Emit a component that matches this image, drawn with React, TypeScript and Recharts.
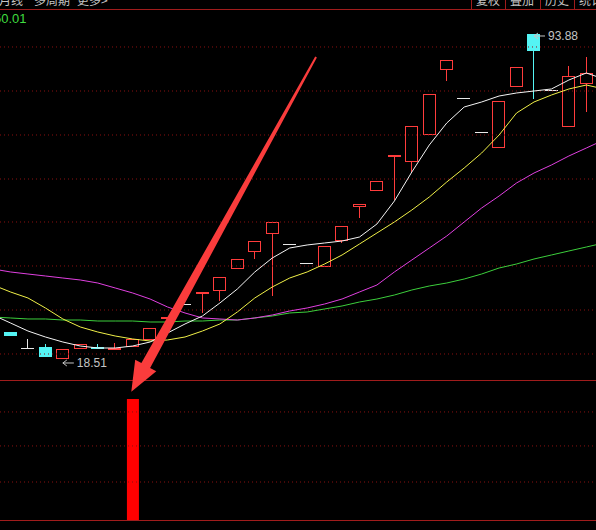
import React from 'react';
import {
  ComposedChart,
  Bar,
  Line,
  XAxis,
  YAxis,
  ReferenceLine,
  ReferenceDot,
} from 'recharts';

const W = 596;
const H = 530;

// Monthly candles (price)
const opens = [24.77, 21.17, 21.29, 18.51, 20.83, 21.29, 20.6, 21.29, 22.92, 27.79, 31.26, 33.58, 34.28, 39.38, 43.32, 47.5, 45.18, 40.77, 39.85, 45.87, 53.76, 57.47, 65.36, 64.2, 70.46, 85.53, 79.04, 71.15, 67.44, 81.59, 93.88, 80.89, 72.31, 82.28];
const closes = [23.84, 21.17, 18.97, 20.83, 21.99, 20.83, 21.06, 23.15, 25.7, 28.25, 31.26, 34.05, 37.53, 41.7, 45.87, 50.28, 45.18, 40.77, 44.72, 49.35, 54.46, 59.79, 65.82, 72.54, 79.97, 87.85, 79.04, 71.15, 78.34, 86.23, 89.94, 80.89, 84.14, 84.84];
const highs = [24.77, 23.15, 21.99, 20.83, 21.99, 21.99, 22.22, 23.15, 25.7, 28.25, 31.26, 34.05, 37.53, 41.7, 45.87, 50.28, 45.18, 40.77, 44.72, 49.35, 54.46, 59.79, 65.82, 72.54, 79.97, 87.85, 79.04, 71.15, 78.34, 86.23, 93.88, 80.89, 86.46, 88.55];
const lows = [23.84, 21.17, 18.97, 18.51, 20.83, 20.83, 20.6, 21.29, 22.92, 26.39, 31.26, 29.18, 31.96, 39.38, 41.7, 33.12, 45.18, 40.77, 39.85, 45.41, 51.21, 57.47, 55.38, 61.64, 70.46, 82.98, 79.04, 71.15, 67.44, 81.59, 78.81, 80.89, 72.31, 75.79];

// Moving averages, one point before the first candle and one after the last
const ma5 = [28.71, 26.86, 25.0, 23.61, 22.45, 21.52, 21.06, 21.06, 21.52, 22.45, 24.54, 26.63, 28.48, 31.5, 34.74, 38.69, 41.93, 44.25, 44.95, 45.41, 45.87, 46.8, 49.82, 55.15, 61.88, 68.14, 73.24, 76.95, 78.11, 79.5, 80.2, 80.66, 81.13, 83.21, 84.84, 83.44];
const ma10 = [35.67, 34.05, 32.66, 30.34, 27.79, 25.93, 24.77, 23.84, 23.15, 22.68, 22.92, 23.61, 25.0, 26.63, 29.41, 32.66, 35.21, 37.29, 38.69, 40.54, 42.63, 45.18, 47.73, 50.28, 53.06, 56.08, 59.56, 62.8, 66.28, 70.46, 75.56, 78.11, 79.73, 81.13, 82.05, 81.13];
const ma20 = [39.38, 38.69, 38.22, 37.76, 37.29, 36.83, 36.13, 34.98, 33.82, 32.42, 30.57, 29.18, 28.02, 27.79, 27.55, 28.02, 28.71, 29.64, 30.34, 31.26, 32.42, 34.05, 35.67, 38.69, 41.47, 44.25, 47.03, 50.28, 53.53, 56.31, 59.33, 61.64, 63.5, 65.59, 67.44, 69.3];
const ma60 = [28.25, 28.02, 27.79, 27.79, 27.55, 27.55, 27.32, 27.32, 27.32, 27.09, 27.09, 27.32, 27.32, 27.55, 27.55, 28.02, 28.48, 29.18, 29.41, 30.11, 30.8, 31.73, 32.42, 33.35, 34.51, 35.44, 36.13, 37.06, 38.22, 39.61, 40.54, 41.7, 42.63, 43.56, 44.48, 45.41];

// Buy signal bars in the lower pane
const signal = [null, null, null, null, null, null, null, 1, null, null, null, null, null, null, null, null, null, null, null, null, null, null, null, null, null, null, null, null, null, null, null, null, null, null];

const menuLeft = ['月线', '多周期', '更多>'];
const menuRight = ['复权', '叠加', '历史', '统计'];
const cornerValue = '50.01';

// Axis ranges and guide levels
const xDomain = [-0.602, 33.553];
const priceDomain = [-21.15, 101.765];
const signalDomain = [-0.0826, 4.2975];
const priceGrid = [19.67, 29.87, 40.08, 50.28, 60.25, 70.46, 80.66, 90.87];
const signalGrid = [0.314, 0.612, 0.893];
const arrowFrom = { x: 17.51, y: 88.55 };
const arrowTo = { x: 6.92, y: 10.9 };

const UP = '#ff3c3c';
const DOWN = '#54f4f4';
const FLAT = '#e8e8e8';
const GRID = '#8a1010';
const FRAME = '#a01c1c';
const TEXT = '#c4c4c4';

const rows = ma5.map((_, k) => {
  const i = k - 1;
  const has = i >= 0 && i < opens.length;
  return {
    i,
    o: has ? opens[i] : undefined,
    c: has ? closes[i] : undefined,
    h: has ? highs[i] : undefined,
    l: has ? lows[i] : undefined,
    range: has ? [lows[i], highs[i]] : undefined,
    sig: has ? signal[i] : undefined,
    ma5: ma5[k],
    ma10: ma10[k],
    ma20: ma20[k],
    ma60: ma60[k],
  };
});

const lowIdx = lows.indexOf(Math.min(...lows));
const highIdx = highs.indexOf(Math.max(...highs));

function Candle(props: any) {
  const { x, y, width, height, payload } = props;
  if (!payload || payload.o == null) return null;
  const { o, c, h, l } = payload;
  const span = h - l;
  const k = span > 0 ? height / span : 0;
  const py = (v: number) => y + (h - v) * k;
  const left = Math.round(x);
  const w = Math.round(width);
  const mid = left + Math.floor(w / 2) + 0.5;
  const top = Math.round(py(Math.max(o, c)));
  const bot = Math.round(py(Math.min(o, c)));
  const yh = Math.round(y);
  const yl = Math.round(y + height);

  if (o === c) {
    return (
      <g>
        {yh < top && <line x1={mid} x2={mid} y1={yh} y2={top} stroke={FLAT} />}
        {yl > bot && <line x1={mid} x2={mid} y1={bot} y2={yl} stroke={FLAT} />}
        <line x1={left} x2={left + w} y1={top + 0.5} y2={top + 0.5} stroke={FLAT} />
      </g>
    );
  }
  const color = c > o ? UP : DOWN;
  return (
    <g>
      {yh < top && <line x1={mid} x2={mid} y1={yh} y2={top} stroke={color} />}
      {yl > bot && <line x1={mid} x2={mid} y1={bot} y2={yl} stroke={color} />}
      {c > o ? (
        <rect x={left + 0.5} y={top + 0.5} width={w - 1} height={Math.max(1, bot - top - 1)} fill="none" stroke={color} />
      ) : (
        <rect x={left} y={top} width={w} height={Math.max(1, bot - top)} fill={color} />
      )}
    </g>
  );
}

function PriceTag({ cx, cy, text, dy }: any) {
  const ay = cy + dy - 4;
  return (
    <g>
      <path
        d={`M${cx} ${ay} L${cx + 11} ${ay} M${cx} ${ay} L${cx + 4} ${ay - 3} M${cx} ${ay} L${cx + 4} ${ay + 3}`}
        stroke={TEXT}
        strokeWidth={1}
        fill="none"
      />
      <text x={cx + 14} y={cy + dy} fill={TEXT} fontSize={12} fontFamily="'Liberation Sans', Arial, sans-serif">
        {text}
      </text>
    </g>
  );
}

function BigArrow(props: any) {
  const { x1, y1, x2, y2 } = props;
  if ([x1, y1, x2, y2].some((v) => v == null || isNaN(v))) return null;
  const dx = x2 - x1;
  const dy = y2 - y1;
  const len = Math.hypot(dx, dy);
  const ux = dx / len;
  const uy = dy / len;
  const nx = -uy;
  const ny = ux;
  const headLen = 30;
  const headHalf = 12;
  const neckHalf = 5;
  const tailHalf = 1;
  const bx = x2 - ux * headLen;
  const by = y2 - uy * headLen;
  const pts = [
    [x1 + nx * tailHalf, y1 + ny * tailHalf],
    [bx + nx * neckHalf, by + ny * neckHalf],
    [bx + nx * headHalf, by + ny * headHalf],
    [x2, y2],
    [bx - nx * headHalf, by - ny * headHalf],
    [bx - nx * neckHalf, by - ny * neckHalf],
    [x1 - nx * tailHalf, y1 - ny * tailHalf],
  ]
    .map((p) => `${p[0].toFixed(1)},${p[1].toFixed(1)}`)
    .join(' ');
  return <polygon points={pts} fill="#fa3c3c" />;
}

function Chrome() {
  const seps = [471, 505, 540, 574];
  const leftX = [-1, 34, 77];
  return (
    <svg width={W} height={H} style={{ position: 'absolute', left: 0, top: 0 }}>
      <rect x={0} y={0} width={W} height={H} fill="#000" />
      {menuLeft.map((t, n) => (
        <text key={t} x={leftX[n]} y={5} fill={TEXT} fontSize={12} fontFamily="'Noto Sans CJK SC', sans-serif">
          {t}
        </text>
      ))}
      {seps.map((sx) => (
        <line key={sx} x1={sx + 0.5} x2={sx + 0.5} y1={0} y2={9} stroke={FRAME} />
      ))}
      {menuRight.map((t, n) => (
        <text key={t} x={seps[n] + 17} y={5} fill={TEXT} fontSize={12} textAnchor="middle" fontFamily="'Noto Sans CJK SC', sans-serif">
          {t}
        </text>
      ))}
      <line x1={0} x2={W} y1={9.5} y2={9.5} stroke={FRAME} />
      <line x1={0} x2={W} y1={380.5} y2={380.5} stroke={FRAME} />
      <line x1={0} x2={W} y1={520.5} y2={520.5} stroke={FRAME} />
      <text x={-6} y={23} fill="#3fdc3f" fontSize={13} fontFamily="'Liberation Sans', Arial, sans-serif">
        {cornerValue}
      </text>
    </svg>
  );
}

export default function App() {
  return (
    <div style={{ position: 'absolute', left: 0, top: 0, width: W, height: H, overflow: 'hidden', background: '#000' }}>
      <Chrome />
      <div style={{ position: 'absolute', left: 0, top: 0 }}>
        <ComposedChart width={W} height={H} data={rows} margin={{ top: 0, right: 0, bottom: 0, left: 0 }}>
          <XAxis xAxisId="k" dataKey="i" type="number" domain={xDomain} allowDataOverflow hide />
          <XAxis xAxisId="s" dataKey="i" type="number" domain={xDomain} allowDataOverflow hide />
          <YAxis yAxisId="p" type="number" domain={priceDomain} allowDataOverflow hide />
          <YAxis yAxisId="s" type="number" domain={signalDomain} allowDataOverflow hide />

          {priceGrid.map((v) => (
            <ReferenceLine key={`p${v}`} xAxisId="k" yAxisId="p" y={v} stroke={GRID} strokeDasharray="1 3" ifOverflow="visible" />
          ))}
          {signalGrid.map((v) => (
            <ReferenceLine key={`s${v}`} xAxisId="s" yAxisId="s" y={v} stroke={GRID} strokeDasharray="1 3" ifOverflow="visible" />
          ))}

          <Bar xAxisId="s" yAxisId="s" dataKey="sig" barSize={12} fill="#ff0000" isAnimationActive={false} />
          <Bar xAxisId="k" yAxisId="p" dataKey="range" barSize={13} shape={Candle} isAnimationActive={false} />

          <Line xAxisId="k" yAxisId="p" dataKey="ma60" stroke="#3ccf3c" strokeWidth={1} dot={false} isAnimationActive={false} />
          <Line xAxisId="k" yAxisId="p" dataKey="ma20" stroke="#e040e0" strokeWidth={1} dot={false} isAnimationActive={false} />
          <Line xAxisId="k" yAxisId="p" dataKey="ma10" stroke="#f0f048" strokeWidth={1} dot={false} isAnimationActive={false} />
          <Line xAxisId="k" yAxisId="p" dataKey="ma5" stroke="#f4f4f4" strokeWidth={1} dot={false} isAnimationActive={false} />

          <ReferenceDot
            xAxisId="k"
            yAxisId="p"
            x={lowIdx}
            y={lows[lowIdx]}
            r={0}
            ifOverflow="visible"
            shape={(p: any) => <PriceTag {...p} text={lows[lowIdx].toFixed(2)} dy={8} />}
          />
          <ReferenceDot
            xAxisId="k"
            yAxisId="p"
            x={highIdx}
            y={highs[highIdx]}
            r={0}
            ifOverflow="visible"
            shape={(p: any) => <PriceTag {...p} text={highs[highIdx].toFixed(2)} dy={6} />}
          />
          <ReferenceLine
            xAxisId="k"
            yAxisId="p"
            segment={[arrowFrom, arrowTo]}
            ifOverflow="visible"
            shape={(p: any) => <BigArrow {...p} />}
          />
        </ComposedChart>
      </div>
    </div>
  );
}
